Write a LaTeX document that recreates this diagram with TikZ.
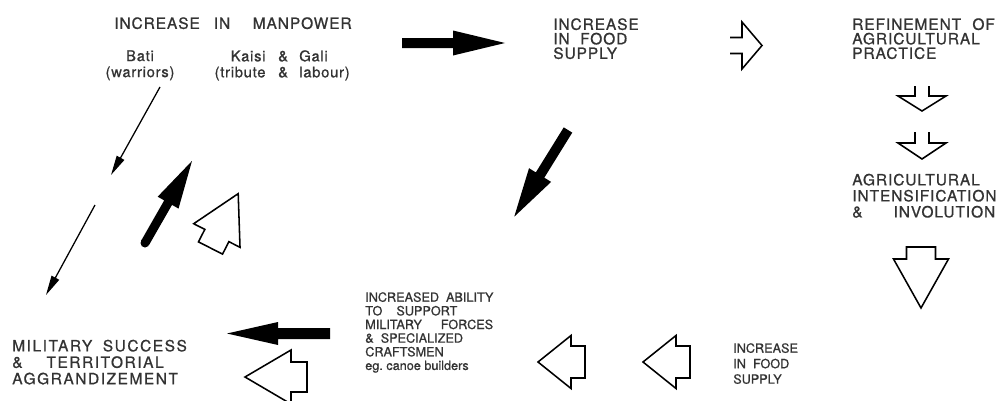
\documentclass[tikz,border=0pt]{standalone}
\usepackage{fontspec}
\setmainfont{TeX Gyre Heros}
\usetikzlibrary{arrows.meta}
\newcommand\helv[3]{\fontspec{TeX Gyre Heros}[LetterSpace=#3,FakeBold=0.8]\fontsize{#1}{#2}\selectfont}
\tikzset{
  txt/.style={inner sep=0pt, anchor=north west, align=left, text=black!80},
  thin arrow/.style={line width=0.9pt, -{Triangle[length=14pt,width=6pt]}},
  hollow/.style={line width=1.1pt},
  pics/fatarrow/.style n args={4}{code={
    \fill (0,-#4) -- ({#1-#2},-#4) -- ({#1-#2},-#3) -- (#1,0) -- ({#1-#2},#3) -- ({#1-#2},#4) -- (0,#4) -- cycle;}},
  pics/hollowarrow/.style n args={4}{code={
    \draw[hollow] (0,-#4) -- ({#1-#2},-#4) -- ({#1-#2},-#3) -- (#1,0) -- ({#1-#2},#3) -- ({#1-#2},#4) -- (0,#4) -- cycle;}},
  pics/openarrow/.style n args={4}{code={
    \draw[hollow] (0,-#4) -- ({#1-#2},-#4) -- ({#1-#2},-#3) -- (#1,0) -- ({#1-#2},#3) -- ({#1-#2},#4) -- (0,#4);}},
}
\begin{document}
\begin{tikzpicture}[x=0.025cm, y=-0.025cm]
\fill[white] (0,0) rectangle (1001,401);
\useasboundingbox (0,0) rectangle (1001,401);

\node[txt, anchor=north, align=center, font=\helv{11}{12}{6}] (manpower) at (233,17) {INCREASE\hspace{10pt}IN\hspace{16pt}MANPOWER};
\node[txt, anchor=north, align=center, font=\helv{10.5}{11.4}{5}] (bati) at (140,50) {Bati\\(warriors)};
\node[txt, font=\helv{10.5}{11.4}{5}] (kaisi) at (209,50) {\makebox[40pt][r]{Kaisi}\hspace{9pt}\&\hspace{8pt}Gali\\\makebox[40pt][r]{(tribute}\hspace{9pt}\&\hspace{8pt}labour)};
\node[txt, font=\helv{11}{10.3}{6}] (food) at (553,18) {INCREASE\\IN\hspace{7.5pt}FOOD\\SUPPLY};
\node[txt, font=\helv{11}{10.3}{6}] (refine) at (852,18) {REFINEMENT\hspace{8pt}OF\\AGRICULTURAL\\PRACTICE};
\node[txt, font=\helv{11}{11.4}{6}] (intens) at (852,173.5) {AGRICULTURAL\\INTENSIFICATION\\\&\hspace{22pt}INVOLUTION};
\node[txt, font=\helv{9}{11}{0}] (food2) at (733,343) {INCREASE\\IN\hspace{5pt}FOOD\\SUPPLY};
\node[txt, font=\helv{9}{9.7}{0}] (ability) at (365,292) {INCREASED\hspace{5pt}ABILITY\\TO\hspace{10pt}SUPPORT\\MILITARY\hspace{13.5pt}FORCES\\\&\hspace{5pt}SPECIALIZED\\CRAFTSMEN\\eg.\ canoe builders};
\node[txt, font=\helv{11}{11.7}{10}] (military) at (12,339.5) {MILITARY\hspace{7.5pt}SUCCESS\\\&\hspace{17pt}TERRITORIAL\\AGGRANDIZEMENT};

\pic at (402,43) {fatarrow={103}{52}{12.5}{5}};
\pic[rotate=180] at (330,333.5) {fatarrow={103}{51}{11.5}{5.5}};
\pic[rotate=-121.8] at (568,130) {fatarrow={102}{49}{13}{5}};
\pic[rotate=60.2] at (145,243) {fatarrow={94.5}{48}{12}{4.5}};
\fill (145,243) circle (4.5);

\pic[rotate=-90] at (921,247) {hollowarrow={61}{49}{27.5}{14.5}};
\pic[rotate=180] at (585,362) {hollowarrow={47}{33}{26.5}{16}};
\pic[rotate=180] at (690,362) {hollowarrow={47}{33}{26.5}{16}};
\pic[rotate=180] at (307,377) {hollowarrow={62}{46}{27}{15}};
\pic[rotate=63] at (210.5,248) {hollowarrow={61}{47}{26}{13.5}};

\pic at (730,45.5) {openarrow={32}{20}{23.5}{8}};
\pic[rotate=-90] at (922,86) {openarrow={25}{15}{24}{7}};
\pic[rotate=-90] at (922,132) {openarrow={27}{16}{24}{7}};

\coordinate (bati-from) at (160,87);
\coordinate (bati-to) at (111,175);
\coordinate (mil-from) at (95,205);
\coordinate (mil-to) at (46,295);
\draw[thin arrow] (bati-from) -- (bati-to);
\draw[thin arrow] (mil-from) -- (mil-to);
\end{tikzpicture}
\end{document}
